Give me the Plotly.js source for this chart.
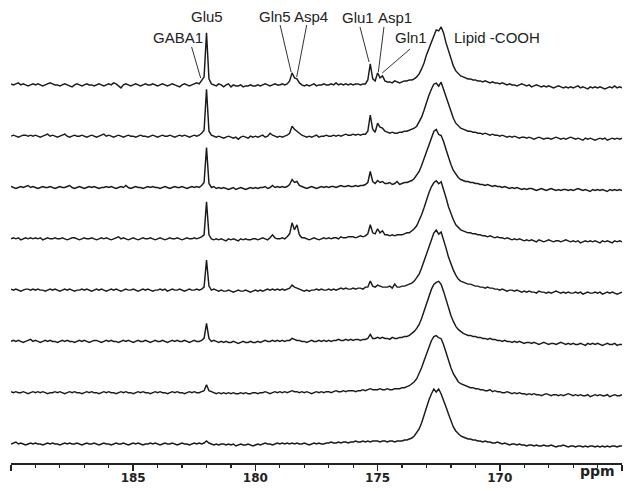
<!DOCTYPE html>
<html>
<head>
<meta charset="utf-8">
<script src="https://cdn.plot.ly/plotly-3.0.1.min.js"></script>
<style>html,body{margin:0;padding:0;background:#fff;}#chart{width:632px;height:491px;}</style>
</head>
<body>
<div id="chart"></div>
<script>
// Chemical-shift sampling grid (ppm), 190.0 down to 165.0
const ppmStart = 190.0;
const ppmStep = -0.1;
const nPoints = 251;

// Spectrum intensities (relative to each spectrum's own baseline), top spectrum first
const spec1 = [
 1,0,1,2,0,1,0,-1,0,1, 0,1,0,-1,0,1,2,1,0,0, -1,0,1,0,-1,-2,0,1,0,-1, 0,1,0,0,-1,0,1,0,-1,0,
 1,0,2,1,-1,-3,0,1,0,-1, 0,1,0,-1,0,1,0,0,1,0, -1,0,1,0,-1,0,1,0,-1,-2, 0,1,0,-1,0,1,2,1,5,8,
 52,6,1,0,-1,1,0,-2,0,1, -2,0,-1,-1,0,-2,-1,-1,0,-1, -1,0,-1,0,1,0,-1,0,1,0, 0,1,0,1,4,12,7,6,2,0,
 -1,0,-1,0,1,-1,0,0,1,0, 0,1,0,2,0,1,0,1,0,1, 0,1,1,0,1,1,5,21,6,4, 12,7,9,4,3,3,2,4,3,2,
 3,4,4,5,5,6,8,11,16,22, 30,37,43,49,55,54,58,52,42,34, 26,19,14,11,9,8,7,6,6,5, 5,4,4,3,4,3,2,3,2,2,
 1,2,1,0,1,0,0,-1,0,1, 0,-1,0,-2,-1,0,-1,-2,-1,-2, -1,-2,-3,-2,-1,-2,-3,-2,-3,-2, -3,-2,-1,-3,-2,-3,-4,-2,-3,-2,
 -3,-2,-3,-4,-3,-2,-3,-1,-3,-2,-3];
const spec2 = [
 0,1,0,-1,0,1,1,0,1,0, 1,0,-1,0,1,2,0,1,0,-1, 0,1,2,0,-1,0,1,0,0,1, 0,-1,0,1,0,-1,0,1,2,0,
 1,0,-1,0,1,0,-1,0,1,0, 0,-1,0,1,0,0,-1,0,1,0, -1,0,1,0,0,1,0,-1,0,1, 0,1,0,-1,0,1,0,1,3,6,
 47,5,1,0,-1,0,-1,-2,-1,0, -1,-2,-1,-3,-1,0,-1,-2,0,-1, 0,-1,0,1,-1,0,3,1,0,-1, 0,-1,0,1,3,10,7,5,3,1,
 0,-1,0,-1,0,1,-1,0,0,1, 0,0,1,0,1,0,1,2,1,1, 2,1,2,1,2,2,5,21,7,4, 13,9,8,5,4,3,4,3,3,4,
 4,5,5,6,7,8,10,14,19,26, 34,41,47,52,53,50,54,47,39,31, 24,18,13,10,8,7,6,5,5,4, 4,3,3,2,3,2,1,2,1,1,
 0,1,0,-1,0,-1,0,-1,-2,-1, -1,-2,-1,-2,-3,-2,-1,-2,-3,-2, -2,-3,-2,-1,-2,-3,-2,-3,-2,-1, -2,-3,-2,-3,-4,-2,-3,-2,-3,-4,
 -3,-2,-3,-2,-4,-3,-2,-3,-2,-3,-2];
const spec3 = [
 1,0,-1,0,1,0,1,2,0,1, 0,-1,0,1,0,0,1,0,-1,0, 1,0,0,1,2,0,-1,0,1,0, -1,0,1,0,1,0,-1,0,0,1,
 0,1,0,-1,0,1,0,2,0,-1, 0,1,0,0,-1,0,1,0,1,0, 0,-1,0,1,0,-1,0,1,0,0, 1,0,-1,0,1,0,1,0,2,5,
 40,4,0,1,-1,0,-1,0,-1,-2, -1,0,-2,-1,0,-1,-2,-1,0,-1, 0,-1,0,0,1,-1,0,2,0,1, 0,1,0,1,3,8,5,6,2,1,
 0,-1,0,1,0,-1,0,1,0,1, 0,1,1,0,1,2,1,1,2,1, 1,2,1,2,2,3,5,16,6,4, 7,5,6,4,4,5,3,4,6,3,
 4,5,5,6,7,9,12,16,22,29, 36,43,50,56,58,53,52,46,38,30, 23,17,13,10,8,7,6,6,5,5, 4,4,3,3,2,3,2,1,2,1,
 1,0,1,0,-1,0,-1,0,-1,-2, -1,-2,-1,-1,-2,-3,-2,-1,-2,-3, -2,-1,-2,-3,-2,-3,-2,-2,-3,-2, -3,-2,-1,-2,-3,-2,-3,-4,-2,-3,
 -2,-3,-2,-3,-4,-2,-3,-2,-3,-2,-3];
const spec4 = [
 0,1,0,1,-1,0,1,0,1,0, 1,0,1,-1,0,1,0,0,1,0, 0,1,0,-1,0,1,1,0,-1,0, 1,0,0,1,0,-1,0,1,0,1,
 0,-1,0,1,2,0,1,0,-1,0, 1,0,-1,0,1,0,0,1,0,-1, 0,1,0,-1,0,1,0,0,1,0, -1,0,1,0,0,1,0,1,2,4,
 37,4,0,-1,0,-1,0,-1,-2,0, -1,0,-1,-2,0,-1,0,-1,-1,0, 0,-1,0,1,0,-1,1,4,1,0, 0,1,0,2,5,16,9,14,4,1,
 1,0,-1,0,1,0,-1,0,1,0, 1,0,1,1,0,2,1,1,2,2, 2,1,2,3,2,3,5,14,6,5, 10,6,8,4,4,3,4,3,4,4,
 4,5,6,6,8,10,13,18,24,31, 39,46,52,56,58,55,57,50,41,32, 25,19,14,11,9,8,7,6,6,5, 5,4,4,3,3,2,3,2,1,2,
 1,1,0,1,0,-1,0,-1,0,-1, -2,-1,-2,-1,-2,-3,-1,-2,-3,-2, -1,-2,-3,-2,-2,-3,-2,-1,-2,-3, -2,-3,-2,-4,-3,-2,-3,-2,-3,-2,
 -3,-4,-2,-3,-2,-3,-4,-2,-3,-2,-3];
const spec5 = [
 1,0,1,0,-1,0,1,1,0,1, 0,1,0,0,-1,0,1,0,1,0, -1,0,1,0,1,0,-1,0,0,1, 0,1,0,-1,0,1,0,1,0,-1,
 0,1,0,1,0,-1,0,1,0,0, 1,0,-1,0,1,0,1,0,-1,0, 0,1,0,1,-1,0,1,0,0,1, 0,-1,0,1,0,0,1,0,1,3,
 30,4,0,1,0,-1,0,-1,-1,0, -1,-2,-1,0,-1,-1,0,-1,-2,-1, 0,-1,0,-1,0,1,0,1,0,1, 0,1,0,1,2,5,3,2,1,0,
 -1,0,-1,0,0,1,0,1,0,0, 1,0,1,0,1,2,1,2,1,1, 2,1,2,2,1,3,3,9,4,3, 5,4,3,3,3,4,2,6,3,3,
 4,4,5,6,7,9,12,16,22,29, 37,45,52,57,60,56,58,51,42,33, 26,20,15,11,9,8,7,6,6,5, 4,4,3,3,2,3,2,2,1,1,
 0,1,0,-1,0,0,-1,0,-1,-2, -1,-2,-1,-2,-2,-3,-1,-2,-2,-3, -2,-3,-2,-1,-2,-3,-2,-3,-2,-3, -3,-2,-3,-2,-4,-3,-2,-3,-3,-2,
 -3,-2,-4,-3,-2,-3,-2,-3,-4,-3,-2];
const spec6 = [
 0,1,0,1,0,-1,0,1,2,0, 1,0,-1,0,1,0,1,0,0,-1, 0,1,0,1,0,0,-1,0,1,0, 1,0,-1,0,1,1,0,-1,0,1,
 0,1,0,0,-1,0,1,0,1,0, -1,0,1,0,0,1,0,-1,0,1, 0,0,1,0,-1,0,1,0,1,0, 0,1,0,-1,0,1,0,0,1,3,
 18,3,0,1,0,-1,0,-1,0,-1, -1,0,-1,-2,-1,0,-1,-1,0,-1, -1,0,-1,0,1,0,0,1,0,1, 0,1,0,1,1,3,2,1,1,0,
 0,-1,0,1,0,0,1,0,1,0, 1,0,1,1,2,1,1,2,1,2, 1,2,2,1,2,2,3,7,3,3, 4,3,4,3,3,2,4,3,3,4,
 4,5,5,6,8,10,13,17,23,30, 38,46,52,57,59,60,57,50,42,33, 26,20,15,12,10,8,7,6,6,5, 5,4,4,3,3,2,3,2,2,1,
 1,0,1,0,0,-1,0,-1,0,-1, -2,-1,-1,-2,-1,-2,-3,-2,-1,-2, -3,-2,-2,-3,-2,-1,-2,-3,-2,-3, -2,-3,-3,-2,-3,-4,-2,-3,-2,-3,
 -2,-3,-4,-3,-2,-3,-3,-2,-4,-3,-3];
const spec7 = [
 1,0,1,0,0,1,0,-1,0,1, 0,1,0,1,0,-1,0,0,1,0, 1,0,-1,0,1,0,1,0,0,-1, 0,1,0,1,0,0,-1,0,1,0,
 1,0,0,-1,0,1,0,1,0,0, -1,0,1,0,1,0,0,-1,0,1, 0,1,0,0,-1,0,1,0,1,0, 0,-1,0,1,0,1,0,0,1,2,
 8,2,1,0,-1,0,-1,0,-1,0, -1,0,-1,-1,0,-1,0,-1,-1,0, 0,-1,0,0,1,0,-1,0,1,0, 1,0,1,0,1,2,1,1,0,1,
 0,1,0,-1,0,1,0,1,0,1, 1,0,1,2,1,1,2,1,2,2, 2,1,2,2,3,2,3,4,3,3, 3,4,3,3,4,3,3,4,4,4,
 5,5,6,7,9,11,14,19,25,32, 39,46,52,56,57,55,54,48,40,32, 25,19,15,11,9,8,7,6,5,5, 4,4,3,3,2,2,3,1,2,1,
 1,0,0,1,0,-1,0,-1,0,-1, -1,-2,-1,-2,-1,-2,-2,-3,-2,-1, -2,-3,-2,-2,-3,-2,-3,-2,-1,-2, -3,-2,-3,-2,-3,-3,-2,-4,-3,-2,
 -3,-2,-3,-3,-2,-4,-3,-2,-3,-3,-2];
const spec8 = [
 0,1,2,0,1,0,-1,0,1,0, 1,0,0,-1,0,1,0,1,0,0, -1,0,1,0,1,0,0,1,0,-1, 0,1,0,0,1,0,-1,0,1,0,
 0,-1,0,1,0,0,1,0,-1,0, 1,0,1,0,-1,0,0,1,0,1, 0,-1,0,1,0,0,1,0,-1,0, 1,0,0,-1,0,1,0,1,0,1,
 3,1,0,-1,0,-1,0,0,-1,0, -1,0,-2,-1,0,-1,-1,0,-1,-2, -1,0,-1,0,1,0,0,-1,0,1, 0,1,0,1,0,1,0,1,0,0,
 1,0,-1,0,1,0,1,0,0,1, 1,2,1,1,2,1,2,2,1,2, 2,3,2,2,3,2,3,2,3,3, 3,2,3,3,2,3,3,2,3,3,
 3,4,4,5,6,8,11,15,21,29, 37,44,50,55,52,55,50,44,37,30, 23,17,13,10,8,7,6,5,5,4, 4,3,3,2,3,2,2,1,1,2,
 1,0,1,0,-1,0,0,-1,0,-1, -1,-2,-1,-1,-2,-1,-2,-2,-1,-2, -2,-1,-2,-3,-2,-2,-1,-2,-3,-2, -2,-3,-2,-2,-3,-2,-3,-2,-2,-3,
 -2,-3,-2,-3,-2,-3,-2,-2,-3,-2,-2];

const spectra = [spec1, spec2, spec3, spec4, spec5, spec6, spec7, spec8];

// Axis tick labels
const tickValues = [190, 185, 180, 175, 170, 165];
const tickLabels = ['', '185', '180', '175', '170', ''];

// Peak assignment labels
const peakNames = ['GABA1', 'Glu5', 'Gln5', 'Asp4', 'Glu1', 'Asp1', 'Gln1', 'Lipid -COOH'];

// ---------- build ----------
const ppm = Array.from({length: nPoints}, (_, i) => +(ppmStart + ppmStep * i).toFixed(1));
const stackBase = 19, stackGap = 51.3;
const lineColor = '#1a1a1a';

const traces = spectra.map((s, k) => {
  const off = stackBase + (spectra.length - 1 - k) * stackGap;
  return {
    type: 'scatter', mode: 'lines',
    x: ppm, y: s.map(v => v + off),
    line: {color: lineColor, width: 1.45},
    hoverinfo: 'skip', showlegend: false
  };
});

const labelFont = {family: 'Liberation Sans, Arial, sans-serif', size: 15, color: '#222'};
// label text placement [x(ppm), y, xanchor]
const labelPos = {
  'GABA1': [183.17, 426, 'center'],
  'Glu5': [181.99, 447, 'center'],
  'Gln5': [179.2, 447, 'center'],
  'Asp4': [177.73, 447, 'center'],
  'Glu1': [175.8, 446, 'center'],
  'Asp1': [174.29, 446, 'center'],
  'Gln1': [173.65, 426, 'center'],
  'Lipid -COOH': [171.96, 426, 'left']
};
const annotations = peakNames.map(n => ({
  x: labelPos[n][0], y: labelPos[n][1], xref: 'x', yref: 'y',
  text: n, showarrow: false, xanchor: labelPos[n][2], yanchor: 'middle',
  font: labelFont
}));
annotations.push({
  x: (597 - 11) / 611, y: -8 / 463, xref: 'paper', yref: 'paper', text: 'ppm', showarrow: false,
  font: {family: 'DejaVu Sans, Verdana, sans-serif', size: 14, color: '#222', weight: 'bold'},
  xanchor: 'center', yanchor: 'middle'
});

// leader lines [x0, y0, x1, y1]
const leaders = [
  [182.61, 416, 182.24, 385],
  [178.99, 438, 178.54, 391],
  [177.90, 438, 178.31, 386],
  [175.72, 436, 175.35, 401],
  [174.74, 436, 174.97, 391],
  [173.67, 414, 174.81, 390]
];
const shapes = leaders.map(l => ({
  type: 'line', xref: 'x', yref: 'y', x0: l[0], y0: l[1], x1: l[2], y1: l[3],
  line: {color: '#333', width: 1}
}));

const layout = {
  width: 632, height: 491,
  margin: {l: 11, r: 10, t: 0, b: 28, pad: 0},
  paper_bgcolor: '#fff', plot_bgcolor: '#fff',
  showlegend: false,
  xaxis: {
    range: [190, 165], autorange: false,
    showgrid: false, zeroline: false,
    showline: true, linecolor: '#222', linewidth: 1.5,
    ticks: 'outside', ticklen: 6, tickwidth: 1.5, tickcolor: '#222',
    tickmode: 'array', tickvals: tickValues, ticktext: tickLabels,
    ticklabelstandoff: -3,
    tickfont: {family: 'DejaVu Sans, Verdana, sans-serif', size: 12, color: '#222', weight: 'bold'},
    minor: {ticks: 'outside', ticklen: 3, tickwidth: 1.2, tickcolor: '#222', tickmode: 'linear', tick0: 165, dtick: 1, showgrid: false},
    fixedrange: true
  },
  yaxis: {range: [0, 463], autorange: false, visible: false, fixedrange: true},
  annotations: annotations,
  shapes: shapes
};

Plotly.newPlot('chart', traces, layout, {staticPlot: true, displayModeBar: false});
</script>
</body>
</html>
